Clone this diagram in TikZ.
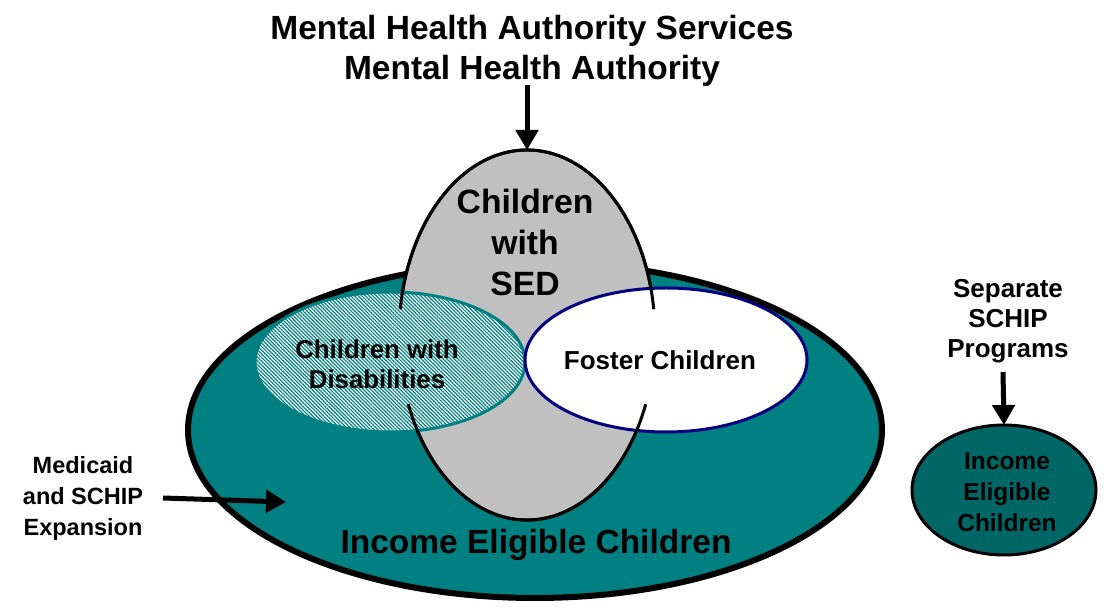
\documentclass[tikz,border=0pt]{standalone}
\usepackage{fontspec}
\setmainfont{Liberation Sans}
\usetikzlibrary{shapes.geometric,arrows.meta,patterns.meta}
\definecolor{tealfill}{HTML}{008080}
\definecolor{tealdark}{HTML}{006666}
\definecolor{sedgray}{HTML}{C0C0C0}
\definecolor{navyline}{HTML}{000080}

\begin{document}
\begin{tikzpicture}[x=1pt,y=1pt,
  oval/.style={ellipse, inner sep=0pt, outer sep=0pt},
  lbl/.style={font=\bfseries, align=center, inner sep=0pt},
  bigarrow/.style={line width=5pt, -{Triangle[width=22pt,length=20pt]}},
  sedline/.style={line width=3pt, black},
]
\path[use as bounding box] (0,0) rectangle (1105,607);

% outer population: income eligible children
\node[oval, minimum width=694, minimum height=336, fill=tealfill, draw=black, line width=6pt] (income) at (535,177) {};

% children with serious emotional disturbance
\node[oval, minimum width=256, minimum height=370, fill=sedgray, draw=black, line width=3pt] (sed) at (527,272) {};

% overlapping subgroups
\node[oval, minimum width=270, minimum height=140, preaction={fill=white},
      pattern={Lines[angle=-45,distance=2.6pt,line width=1.2pt]}, pattern color=tealfill,
      draw=tealfill, line width=3pt] (disab) at (390,245) {};
\node[oval, minimum width=282, minimum height=144, fill=white, draw=navyline, line width=3pt] (foster) at (666,247) {};

% outline of the SED group reaching into the subgroups
\draw[sedline] (sed.center) ++(8:128 and 185) arc[start angle=8, end angle=172, x radius=128, y radius=185];
\draw[sedline] (sed.center) ++(202:128 and 185) arc[start angle=202, end angle=338, x radius=128, y radius=185];

% separate SCHIP population
\node[oval, minimum width=184, minimum height=130, fill=tealdark, draw=black, line width=3pt] (sep) at (1004,117) {};

% labels
\node[lbl, font=\bfseries\fontsize{33.5}{40}\selectfont] (mha) at (532,556)
  {Mental Health Authority Services\\Mental Health Authority};
\node[lbl, font=\bfseries\fontsize{33.7}{41}\selectfont] (sedtext) at (525,365) {Children\\with\\SED};
\node[lbl, font=\bfseries\fontsize{25.8}{30}\selectfont] (disabtext) at (377,243) {Children with\\Disabilities};
\node[lbl, font=\bfseries\fontsize{26}{30}\selectfont] (fostertext) at (660,247) {Foster Children};
\node[lbl, font=\bfseries\fontsize{33.5}{40}\selectfont] (incometext) at (536,62) {Income Eligible Children};
\node[lbl, font=\bfseries\fontsize{26}{30}\selectfont] (septext) at (1008,286) {Separate\\SCHIP\\Programs};
\node[lbl, font=\bfseries\fontsize{24.5}{31}\selectfont] (seplbl) at (1007,115) {Income\\Eligible\\Children};
\node[lbl, font=\bfseries\fontsize{23.5}{31}\selectfont] (medtext) at (83,109) {Medicaid\\and SCHIP\\Expansion};

% arrows
\coordinate (mhaend) at (527,522);
\coordinate (sepend) at (1003,235);
\coordinate (medstart) at (163,109);
\coordinate (medend) at (286,105);
\draw[bigarrow] (mhaend) -- (sed.north);
\draw[bigarrow] (sepend) -- (sep.north);
\draw[bigarrow] (medstart) -- (medend);
\end{tikzpicture}
\end{document}
